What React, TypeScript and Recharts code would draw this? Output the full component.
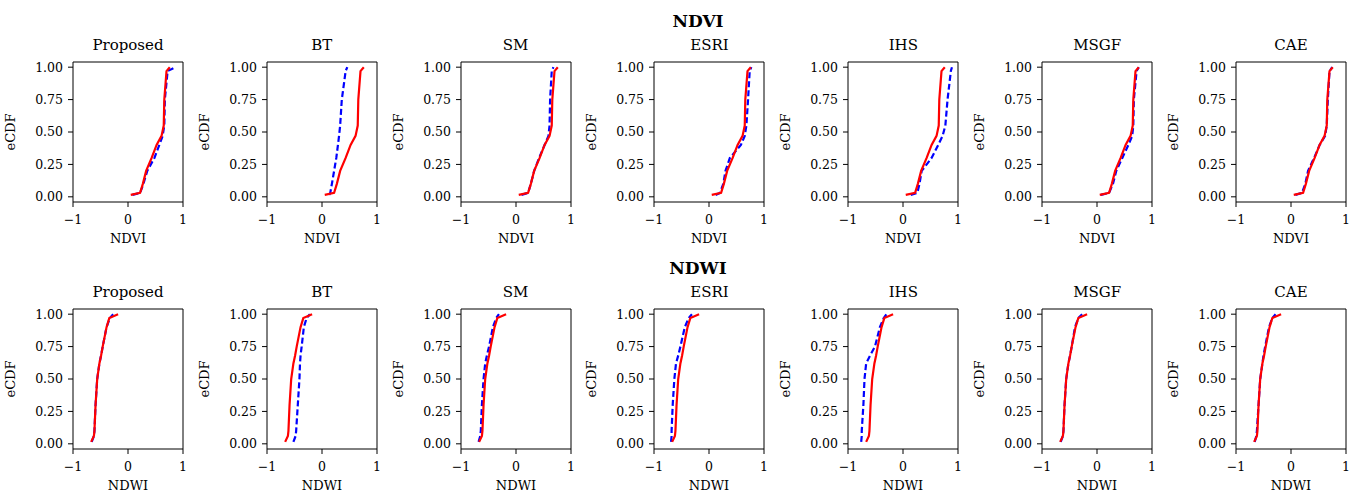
import React from 'react'
import { LineChart, Line, XAxis, YAxis } from 'recharts'

const methods = ['Proposed', 'BT', 'SM', 'ESRI', 'IHS', 'MSGF', 'CAE']

// eCDF levels (y) shared by every curve in a row
const ndviLevels = [0.015, 0.03, 0.1, 0.2, 0.3, 0.4, 0.47, 0.55, 0.75, 0.97, 1.0]
const ndwiLevels = [0.015, 0.06, 0.1, 0.3, 0.5, 0.62, 0.68, 0.75, 0.9, 0.97, 1.0]

// red (solid) reference curve, same in every panel of a row
const ndviRed = [0.05, 0.22, 0.27, 0.33, 0.43, 0.52, 0.61, 0.65, 0.66, 0.7, 0.76]
const ndwiRed = [-0.67, -0.62, -0.61, -0.59, -0.56, -0.52, -0.49, -0.46, -0.39, -0.34, -0.18]

// blue (dashed) curve per method
const ndviBlue = [
  [0.08, 0.22, 0.28, 0.35, 0.48, 0.57, 0.63, 0.66, 0.67, 0.72, 0.86],
  [0.13, 0.15, 0.18, 0.22, 0.26, 0.29, 0.31, 0.33, 0.36, 0.43, 0.46],
  [0.1, 0.22, 0.27, 0.33, 0.42, 0.52, 0.59, 0.61, 0.62, 0.65, 0.68],
  [0.12, 0.2, 0.26, 0.3, 0.38, 0.58, 0.65, 0.68, 0.71, 0.74, 0.77],
  [0.14, 0.26, 0.3, 0.34, 0.52, 0.64, 0.72, 0.77, 0.81, 0.87, 0.89],
  [0.07, 0.22, 0.29, 0.35, 0.46, 0.57, 0.64, 0.66, 0.67, 0.72, 0.76],
  [0.08, 0.2, 0.26, 0.31, 0.42, 0.52, 0.62, 0.65, 0.67, 0.7, 0.75],
]
const ndwiBlue = [
  [-0.66, -0.62, -0.61, -0.59, -0.56, -0.52, -0.49, -0.46, -0.39, -0.33, -0.27],
  [-0.52, -0.48, -0.47, -0.44, -0.41, -0.4, -0.39, -0.37, -0.33, -0.28, -0.22],
  [-0.68, -0.65, -0.64, -0.62, -0.59, -0.56, -0.53, -0.49, -0.42, -0.36, -0.31],
  [-0.69, -0.68, -0.68, -0.66, -0.63, -0.6, -0.56, -0.52, -0.44, -0.37, -0.31],
  [-0.76, -0.75, -0.75, -0.72, -0.7, -0.67, -0.6, -0.51, -0.42, -0.35, -0.3],
  [-0.66, -0.62, -0.61, -0.59, -0.56, -0.52, -0.49, -0.46, -0.4, -0.34, -0.27],
  [-0.66, -0.63, -0.62, -0.59, -0.56, -0.52, -0.5, -0.47, -0.4, -0.34, -0.28],
]

const xTicks = [-1, 0, 1]
const yTicks = [0, 0.25, 0.5, 0.75, 1]

const FONT = '"DejaVu Serif", serif'
const PLOT_W = 110
const PLOT_H = 140
const Y_AXIS_W = 75
const X_AXIS_H = 50
const BOX_LEFT0 = 73
const BOX_STEP = 193.83
const ROW_TOPS = [62, 309]

const fmtX = (v: number) => (v < 0 ? '\u2212' + Math.abs(v) : String(v))
const fmtY = (v: number) => v.toFixed(2)

type PanelProps = {
  left: number
  top: number
  levels: number[]
  red: number[]
  blue: number[]
  xName: string
}

function Panel({ left, top, levels, red, blue, xName }: PanelProps) {
  const redData = levels.map((y, i) => ({ x: red[i], y }))
  const blueData = levels.map((y, i) => ({ x: blue[i], y }))
  const tickStyle = { fontSize: 12.5, fill: '#000', fontFamily: FONT }

  return (
    <div style={{ position: 'absolute', left: left - Y_AXIS_W, top: top - 2 }}>
      <LineChart
        width={Y_AXIS_W + PLOT_W + 12}
        height={PLOT_H + X_AXIS_H + 2}
        margin={{ top: 0, right: 10, bottom: 0, left: 0 }}
      >
        <XAxis
          xAxisId="b"
          dataKey="x"
          type="number"
          domain={[-1, 1]}
          allowDataOverflow
          ticks={xTicks}
          tickFormatter={fmtX}
          height={X_AXIS_H}
          tickSize={5}
          tickMargin={8}
          stroke="#000"
          tick={tickStyle}
          label={(p: any) => (
            <text
              x={p.viewBox.x + p.viewBox.width / 2}
              y={p.viewBox.y + 36}
              textAnchor="middle"
              dominantBaseline="central"
              fontSize={13}
              fontFamily={FONT}
              fill="#000"
            >
              {xName}
            </text>
          )}
        />
        <XAxis
          xAxisId="t"
          orientation="top"
          type="number"
          domain={[-1, 1]}
          height={2}
          tick={false}
          tickLine={false}
          stroke="#000"
        />
        <YAxis
          yAxisId="l"
          type="number"
          domain={[-0.04, 1.04]}
          allowDataOverflow
          ticks={yTicks}
          tickFormatter={fmtY}
          width={Y_AXIS_W}
          tickSize={5}
          tickMargin={5}
          stroke="#000"
          tick={tickStyle}
          label={(p: any) => {
            const cx = p.viewBox.x + 12
            const cy = p.viewBox.y + p.viewBox.height / 2
            return (
              <text
                x={cx}
                y={cy}
                transform={`rotate(-90 ${cx} ${cy})`}
                textAnchor="middle"
                dominantBaseline="central"
                fontSize={13}
                fontFamily={FONT}
                fill="#000"
              >
                eCDF
              </text>
            )
          }}
        />
        <YAxis
          yAxisId="r"
          orientation="right"
          type="number"
          domain={[-0.04, 1.04]}
          width={2}
          tick={false}
          tickLine={false}
          stroke="#000"
        />
        <Line
          xAxisId="b"
          yAxisId="l"
          data={blueData}
          dataKey="y"
          type="linear"
          stroke="#0000ff"
          strokeWidth={2.2}
          strokeDasharray="6 3"
          dot={false}
          isAnimationActive={false}
        />
        <Line
          xAxisId="b"
          yAxisId="l"
          data={redData}
          dataKey="y"
          type="linear"
          stroke="#ff0000"
          strokeWidth={2.2}
          dot={false}
          isAnimationActive={false}
        />
      </LineChart>
    </div>
  )
}

const rows = [
  { name: 'NDVI', levels: ndviLevels, red: ndviRed, blue: ndviBlue },
  { name: 'NDWI', levels: ndwiLevels, red: ndwiRed, blue: ndwiBlue },
]

export default function App() {
  return (
    <div
      style={{
        position: 'absolute',
        left: 0,
        top: 0,
        width: 1362,
        height: 493,
        background: '#fff',
        overflow: 'hidden',
      }}
    >
      {rows.map((row, r) =>
        methods.map((m, i) => (
          <Panel
            key={row.name + m}
            left={BOX_LEFT0 + i * BOX_STEP}
            top={ROW_TOPS[r]}
            levels={row.levels}
            red={row.red}
            blue={row.blue[i]}
            xName={row.name}
          />
        ))
      )}
      <svg
        width={1362}
        height={493}
        style={{ position: 'absolute', left: 0, top: 0, pointerEvents: 'none' }}
      >
        {rows.map((row, r) => (
          <g key={row.name}>
            <text
              x={698}
              y={ROW_TOPS[r] - 35}
              textAnchor="middle"
              fontSize={17}
              fontWeight="bold"
              fontFamily={FONT}
              fill="#000"
            >
              {row.name}
            </text>
            {methods.map((m, i) => (
              <text
                key={m}
                x={BOX_LEFT0 + i * BOX_STEP + PLOT_W / 2}
                y={ROW_TOPS[r] - 12}
                textAnchor="middle"
                fontSize={15}
                fontFamily={FONT}
                fill="#000"
              >
                {m}
              </text>
            ))}
          </g>
        ))}
      </svg>
    </div>
  )
}
